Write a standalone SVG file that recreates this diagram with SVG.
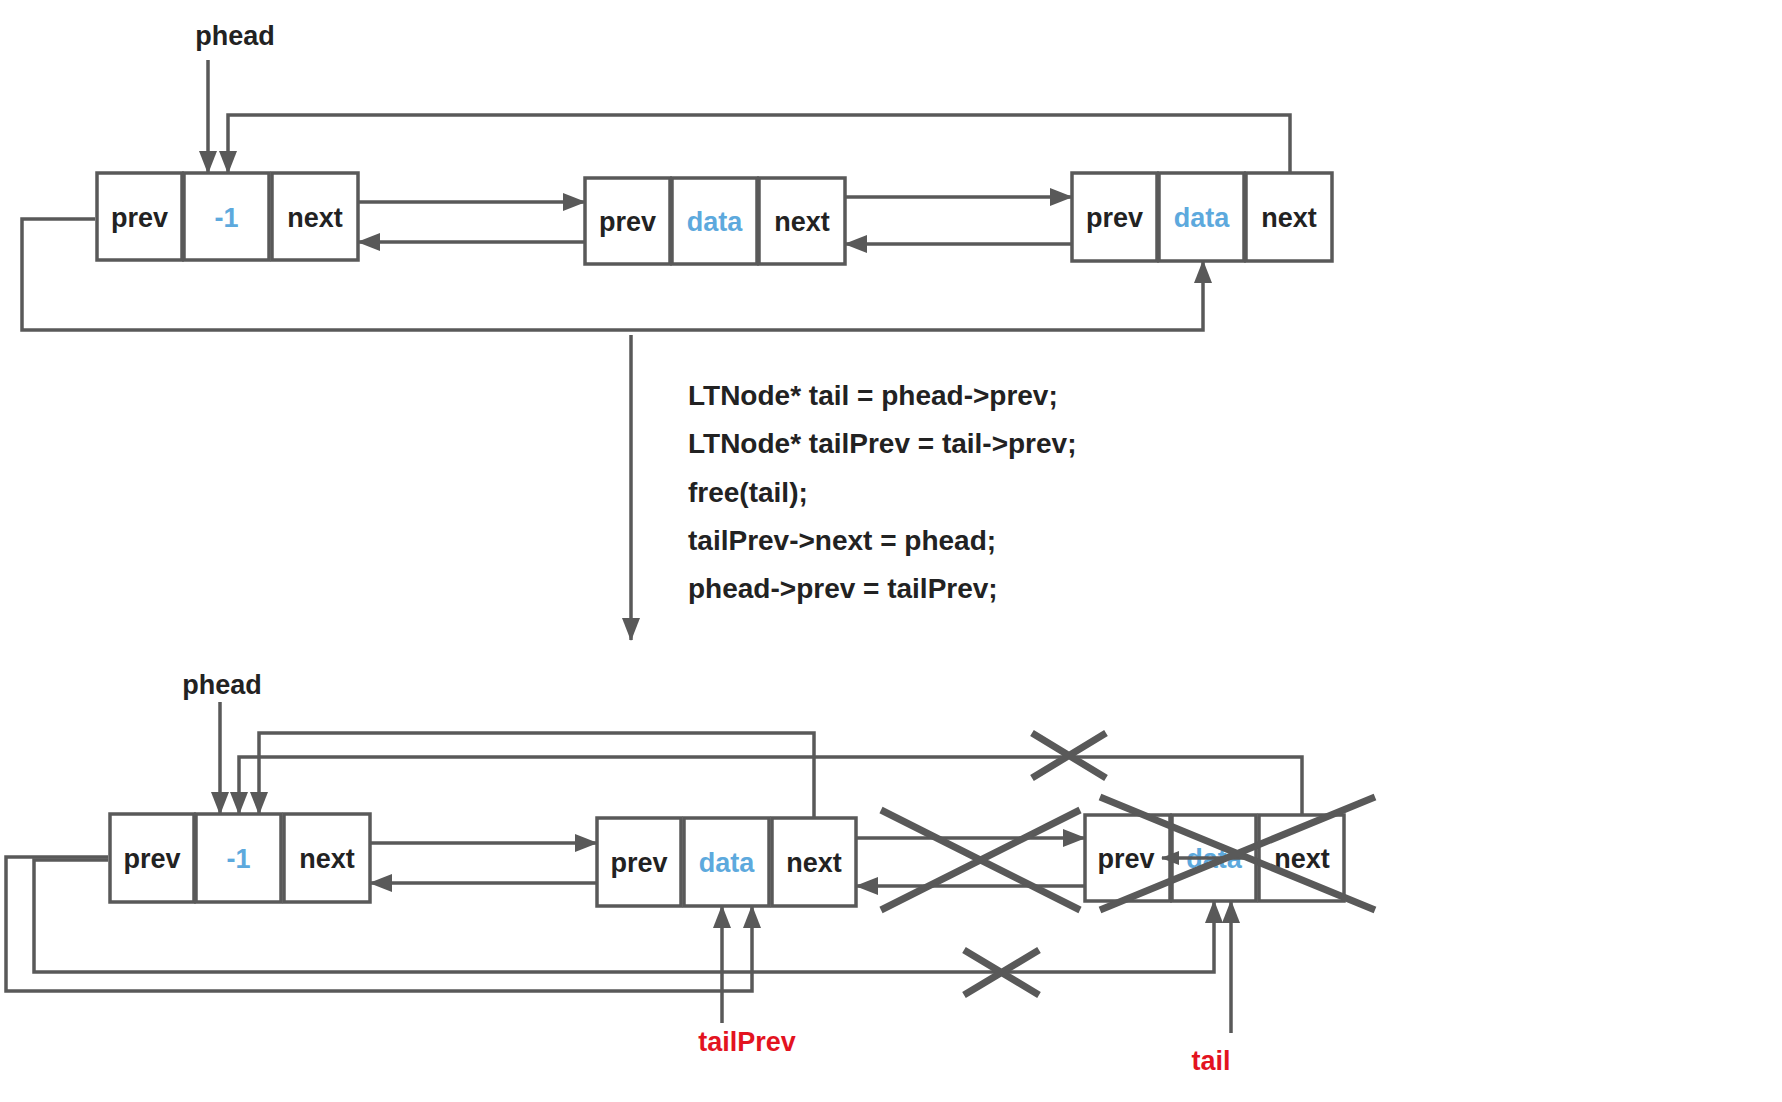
<svg xmlns="http://www.w3.org/2000/svg" width="1782" height="1102" viewBox="0 0 1782 1102">
  <style>
    .cell { fill: #ffffff; stroke: #595959; stroke-width: 3.5; }
    .lbl { font-family: "Liberation Sans", Arial, sans-serif; font-weight: bold; font-size: 27px; fill: #222222; text-anchor: middle; }
    .val { fill: #5DA9DD; }
    .red { fill: #E3131F; }
    .code { font-family: "Liberation Sans", Arial, sans-serif; font-weight: bold; font-size: 28px; fill: #222222; }
    .ln { fill: none; stroke: #595959; stroke-width: 3.5; }
    .arr { marker-end: url(#ah); }
    .x { stroke: #595959; stroke-width: 7; }
  </style>
  <defs>
    <marker id="ah" markerUnits="userSpaceOnUse" markerWidth="24" markerHeight="20" refX="22" refY="9" orient="auto">
      <path d="M0,0 L23,9 L0,18 z" fill="#595959"/>
    </marker>
    <marker id="ahs" markerUnits="userSpaceOnUse" markerWidth="18" markerHeight="16" refX="17" refY="7" orient="auto">
      <path d="M0,0 L18,7 L0,14 z" fill="#595959"/>
    </marker>
  </defs>
  <rect width="1782" height="1102" fill="#ffffff"/>

  <g id="connectors">
    <!-- top section -->
    <path class="ln arr" d="M208,60 V173"/>
    <path class="ln arr" d="M1290,173 V115 H228 V173"/>
    <path class="ln arr" d="M358,202 H585"/>
    <path class="ln arr" d="M585,242 H358"/>
    <path class="ln arr" d="M845,197 H1072"/>
    <path class="ln arr" d="M1072,244 H845"/>
    <path class="ln arr" d="M95,219 H22 V330 H1203 V261"/>
    <path class="ln arr" d="M631,335 V640"/>
    <!-- bottom section -->
    <path class="ln arr" d="M220,702 V814"/>
    <path class="ln arr" d="M814,818 V733 H259 V814"/>
    <path class="ln arr" d="M1302,815 V757 H239 V814"/>
    <path class="ln arr" d="M370,843 H597"/>
    <path class="ln arr" d="M597,883 H370"/>
    <path class="ln arr" d="M856,838 H1085"/>
    <path class="ln arr" d="M1085,886 H856"/>
    <path class="ln arr" d="M108,857 H6 V991 H752 V906"/>
    <path class="ln arr" d="M108,860 H34 V972 H1214 V901"/>
    <path class="ln arr" d="M1231,1033 V901"/>
    <path class="ln arr" d="M722,1023 V906"/>
  </g>

  <g id="node1">
    <rect class="cell" x="97" y="173" width="85" height="87"/>
    <rect class="cell" x="184" y="173" width="85" height="87"/>
    <rect class="cell" x="272" y="173" width="86" height="87"/>
    <text class="lbl" x="139.5" y="227">prev</text>
    <text class="lbl val" x="226.5" y="227">-1</text>
    <text class="lbl" x="315" y="227">next</text>
  </g>
  <g id="node2">
    <rect class="cell" x="585" y="178" width="85" height="86"/>
    <rect class="cell" x="672" y="178" width="85" height="86"/>
    <rect class="cell" x="759" y="178" width="86" height="86"/>
    <text class="lbl" x="627.5" y="231">prev</text>
    <text class="lbl val" x="714.5" y="231">data</text>
    <text class="lbl" x="802" y="231">next</text>
  </g>
  <g id="node3">
    <rect class="cell" x="1072" y="173" width="85" height="88"/>
    <rect class="cell" x="1159" y="173" width="85" height="88"/>
    <rect class="cell" x="1246" y="173" width="86" height="88"/>
    <text class="lbl" x="1114.5" y="227">prev</text>
    <text class="lbl val" x="1201.5" y="227">data</text>
    <text class="lbl" x="1289" y="227">next</text>
  </g>
  <g id="phead-top">
    <text class="lbl" x="235" y="45">phead</text>
  </g>

  <g id="code">
    <text class="code" x="688" y="405">LTNode* tail = phead-&gt;prev;</text>
    <text class="code" x="688" y="453">LTNode* tailPrev = tail-&gt;prev;</text>
    <text class="code" x="688" y="502">free(tail);</text>
    <text class="code" x="688" y="550">tailPrev-&gt;next = phead;</text>
    <text class="code" x="688" y="598">phead-&gt;prev = tailPrev;</text>
  </g>

  <g id="node1b">
    <rect class="cell" x="110" y="814" width="84" height="88"/>
    <rect class="cell" x="196" y="814" width="85" height="88"/>
    <rect class="cell" x="284" y="814" width="86" height="88"/>
    <text class="lbl" x="152" y="868">prev</text>
    <text class="lbl val" x="238.5" y="868">-1</text>
    <text class="lbl" x="327" y="868">next</text>
  </g>
  <g id="node2b">
    <rect class="cell" x="597" y="818" width="84" height="88"/>
    <rect class="cell" x="684" y="818" width="85" height="88"/>
    <rect class="cell" x="772" y="818" width="84" height="88"/>
    <text class="lbl" x="639" y="872">prev</text>
    <text class="lbl val" x="726.5" y="872">data</text>
    <text class="lbl" x="814" y="872">next</text>
  </g>
  <g id="node3b">
    <rect class="cell" x="1085" y="815" width="85" height="86"/>
    <rect class="cell" x="1172" y="815" width="84" height="86"/>
    <rect class="cell" x="1259" y="815" width="85" height="86"/>
    <text class="lbl" x="1126" y="868">prev</text>
    <text class="lbl val" x="1214" y="868">data</text>
    <text class="lbl" x="1302" y="868">next</text>
    <path class="ln" d="M1245,858 H1162" marker-end="url(#ahs)"/>
  </g>
  <g id="phead-bottom">
    <text class="lbl" x="222" y="694">phead</text>
  </g>
  <g id="tailPrev-label">
    <text class="lbl red" x="747" y="1051">tailPrev</text>
  </g>
  <g id="tail-label">
    <text class="lbl red" x="1211" y="1070">tail</text>
  </g>

  <g id="crosses">
    <path class="x" d="M1032,733 L1106,778 M1032,778 L1106,733"/>
    <path class="x" d="M881,810 L1080,910 M881,910 L1080,810"/>
    <path class="x" d="M1100,797 L1375,910 M1100,910 L1375,797"/>
    <path class="x" d="M964,950 L1039,995 M964,995 L1039,950"/>
  </g>
</svg>
